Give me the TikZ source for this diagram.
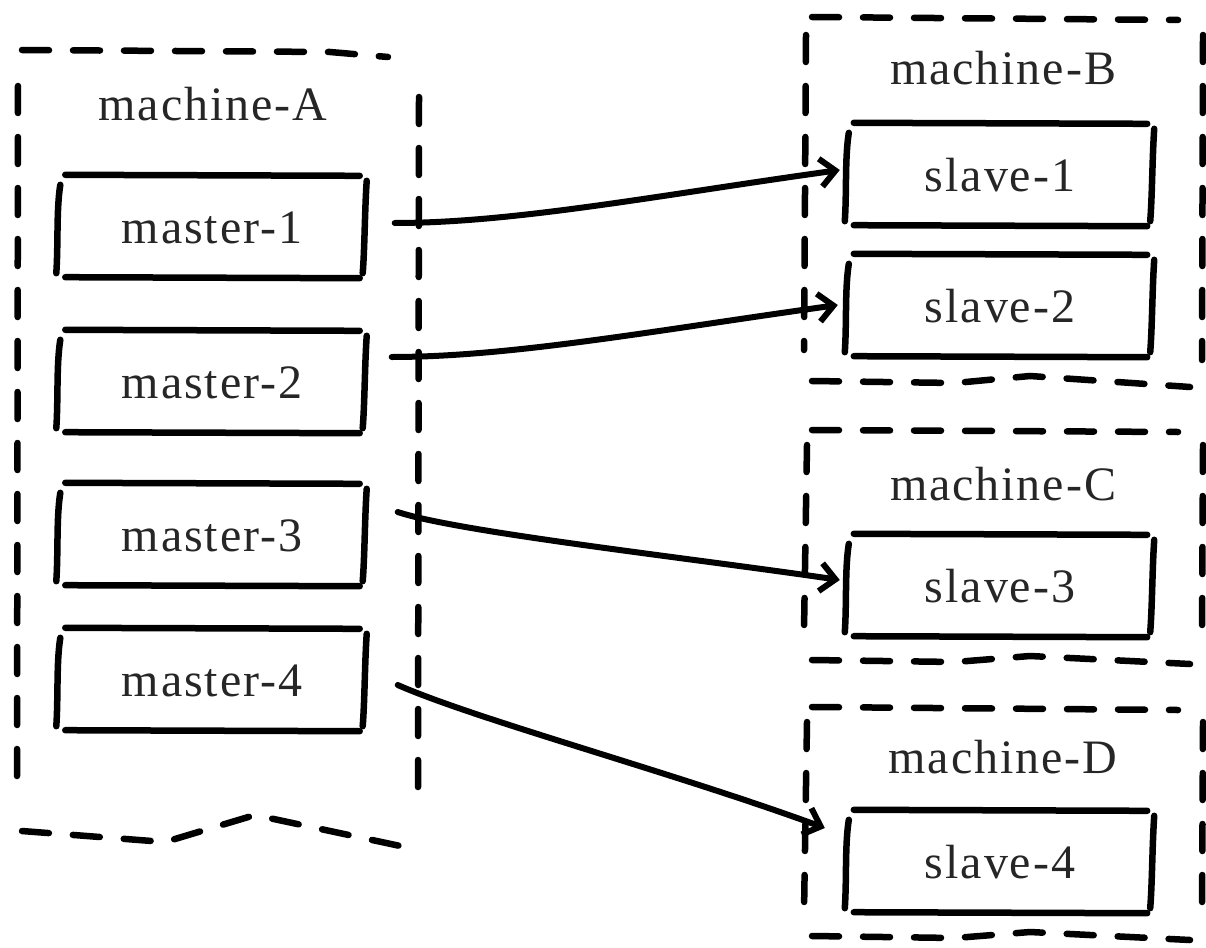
\documentclass[tikz,border=0pt]{standalone}
\usepackage{fontspec}
\newfontfamily\sketchfont{Liberation Serif}[LetterSpace=4]
\usetikzlibrary{arrows.meta}
\begin{document}
\begin{tikzpicture}[x=1pt,y=-1pt,
  txt/.style={font=\sketchfont\fontsize{48}{56}\selectfont, text=black!85},
  procbox/.style={txt, minimum width=305pt, minimum height=102pt, inner sep=0pt, text height=34pt, text depth=0pt},
  stroke/.style={line width=6.5pt, line cap=round},
  dashline/.style={line width=6.5pt, line cap=round, dash pattern=on 27pt off 24pt},
  flow/.style={line width=6pt, line cap=round, -{Straight Barb[length=15pt,width=28pt]}}
]
\fill[white] (0,0) rectangle (1206,947);
\useasboundingbox (0,0) rectangle (1206,947);

% machine-A
\draw[dashline] (22,50) -- (330,52) -- (388,57);
\draw[dashline] (18,86) -- (17,782);
\draw[dashline] (419,97) -- (418,792);
\draw[dashline] (22,831) -- (165,842) -- (255,815) -- (405,847);
% machine-B
\draw[dashline] (812,17) -- (1178,20);
\draw[dashline] (806,35) -- (804,350);
\draw[dashline] (1203,35) -- (1202,360);
\draw[dashline] (812,381) -- (955,383) -- (1030,376) -- (1190,387);
% machine-C
\draw[dashline] (812,430) -- (1178,432);
\draw[dashline] (807,445) -- (804,630);
\draw[dashline] (1203,445) -- (1202,640);
\draw[dashline] (812,660) -- (955,662) -- (1030,656) -- (1190,664);
% machine-D
\draw[dashline] (812,707) -- (1178,710);
\draw[dashline] (807,722) -- (804,912);
\draw[dashline] (1203,722) -- (1202,920);
\draw[dashline] (812,936) -- (955,938) -- (1030,932) -- (1190,940);

% container labels
\node[txt, anchor=base] (lA) at (213,121) {machine-A};
\node[txt, anchor=base] (lB) at (1003,85) {machine-B};
\node[txt, anchor=base] (lC) at (1003,500) {machine-C};
\node[txt, anchor=base] (lD) at (1003,773) {machine-D};

% boxes
\node[procbox] (m1) at (212,226) {master-1};
\node[procbox] (m2) at (212,381) {master-2};
\node[procbox] (m3) at (212,534) {master-3};
\node[procbox] (m4) at (212,679) {master-4};
\node[procbox, minimum width=304pt] (s1) at (1000,174) {slave-1};
\node[procbox, minimum width=304pt] (s2) at (1000,305) {slave-2};
\node[procbox, minimum width=304pt] (s3) at (1000,585) {slave-3};
\node[procbox, minimum width=304pt] (s4) at (1000,861) {slave-4};

\foreach \n in {m1,m2,m3,m4,s1,s2,s3,s4}{
  \draw[stroke] ([shift={(6,0)}]\n.north west) -- ([shift={(-5,1)}]\n.north east);
  \draw[stroke] ([shift={(6,0)}]\n.south west) -- ([shift={(-5,1)}]\n.south east);
  \draw[stroke] ([shift={(1,10)}]\n.north west) .. controls +(-4,25) and +(2,-30) .. ([shift={(-3,-4)}]\n.south west);
  \draw[stroke] ([shift={(2,6)}]\n.north east) .. controls +(-2,30) and +(2,-25) .. ([shift={(-2,-4)}]\n.south east);
}

% connectors
\draw[flow] ([shift={(30,-3)}]m1.east) .. controls +(120,0) and +(-180,25) .. ([shift={(-8,-4)}]s1.west);
\draw[flow] ([shift={(27,-24)}]m2.east) .. controls +(120,0) and +(-180,25) .. ([shift={(-10,0)}]s2.west);
\draw[flow] ([shift={(33,-22)}]m3.east) .. controls +(60,20) and +(-150,-22) .. ([shift={(-8,-5)}]s3.west);
\draw[flow] ([shift={(33,6)}]m4.east) .. controls +(80,35) and +(-150,-55) .. ([shift={(-23,-33)}]s4.west);
\end{tikzpicture}
\end{document}
